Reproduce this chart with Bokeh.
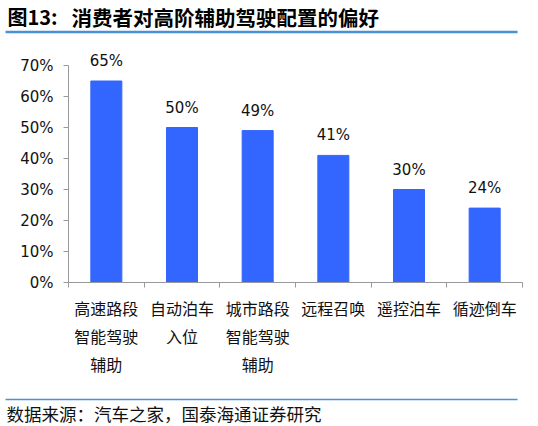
from bokeh.plotting import figure
from bokeh.layouts import column
from bokeh.models import FixedTicker, ColumnDataSource, NumeralTickFormatter, Range1d
from bokeh.embed import file_html
from bokeh.resources import INLINE
from bokeh.core.properties import value

# ---- data ----
categories = ["高速路段\n智能驾驶\n辅助", "自动泊车\n入位", "城市路段\n智能驾驶\n辅助",
              "远程召唤", "遥控泊车", "循迹倒车"]
values = [0.65, 0.50, 0.49, 0.41, 0.30, 0.24]
value_labels = ["65%", "50%", "49%", "41%", "30%", "24%"]
y_ticks = [0, 0.1, 0.2, 0.3, 0.4, 0.5, 0.6, 0.7]
title_prefix = "图13:"
title_text = "消费者对高阶辅助驾驶配置的偏好"
source_text = "数据来源：汽车之家，国泰海通证券研究"

W = 538
RULE_COLOR = "#4A90D2"
CJK = "Noto Sans CJK SC"

def deco_fig(h):
    f = figure(width=W, height=h, output_backend="svg", toolbar_location=None,
               x_range=Range1d(0, W), y_range=Range1d(h, 0), title=None,
               x_axis_type=None, y_axis_type=None, min_border=0, frame_align=False)
    f.outline_line_color = None
    f.grid.visible = False
    return f

# ---- title strip ----
TOP_H = 40
top = deco_fig(TOP_H)
top.text(x=[7], y=[16], text=[title_prefix], text_font=value(CJK), text_font_style="bold",
         text_font_size="20px", text_baseline="middle", text_color="#000000")
top.text(x=[71], y=[16], text=[title_text], text_font=value(CJK), text_font_style="bold",
         text_font_size="20.5px", text_baseline="middle", text_color="#000000")
top.segment(x0=[5], y0=[31.5], x1=[517], y1=[31.5], line_color=RULE_COLOR, line_width=2.5)

# ---- chart ----
n = len(categories)
ML, MR = 68, W - 522
CH = 352                      # chart height (page 40 .. 392)
frame_top, axis_y, top70 = 40, 282, 65
FH = axis_y - frame_top
MB = CH - FH
YMAX = 0.7
y_end = YMAX * FH / (axis_y - top70)

xs = [i + 0.5 for i in range(n)]
src = ColumnDataSource(dict(x=xs, top=values, lab=value_labels))

p = figure(width=W, height=CH, output_backend="svg", toolbar_location=None, title=None,
           x_range=Range1d(0, n), y_range=Range1d(0, y_end), frame_align=False,
           min_border_left=ML, min_border_right=MR, min_border_top=0, min_border_bottom=MB)
p.outline_line_color = None
p.grid.visible = False

p.vbar(x="x", top="top", width=0.41, source=src, color="#3366FF")
p.text(x="x", y="top", text="lab", source=src, text_align="center", text_baseline="middle",
       y_offset=-20, text_font=value("DejaVu Sans"), text_font_size="15px", text_color="#111111")

xa = p.xaxis[0]
xa.ticker = FixedTicker(ticks=xs, minor_ticks=list(range(n + 1)))
xa.major_label_overrides = {x: c for x, c in zip(xs, categories)}
xa.major_tick_out = 0
xa.major_tick_in = 0
xa.minor_tick_out = 5
xa.minor_tick_in = 0
xa.minor_tick_line_color = "#999999"
xa.axis_line_color = "#999999"
xa.major_label_text_font = CJK
xa.major_label_text_font_size = "16px"
xa.major_label_text_line_height = 1.17
xa.major_label_text_color = "#111111"
xa.major_label_standoff = 8

ya = p.yaxis[0]
ya.ticker = FixedTicker(ticks=y_ticks, minor_ticks=[])
ya.formatter = NumeralTickFormatter(format="0%")
ya.bounds = (0, YMAX)
ya.major_tick_out = 5
ya.major_tick_in = 0
ya.major_tick_line_color = "#999999"
ya.axis_line_color = "#999999"
ya.major_label_text_font = "DejaVu Sans"
ya.major_label_text_font_size = "15px"
ya.major_label_text_color = "#111111"
ya.major_label_standoff = 10

# ---- source strip ----
BOT_H = 34
bot = deco_fig(BOT_H)
bot.segment(x0=[5], y0=[7], x1=[517], y1=[7], line_color=RULE_COLOR, line_width=1.5)
bot.text(x=[6], y=[21], text=[source_text], text_font=value(CJK), text_font_size="17.5px",
         text_baseline="middle", text_color="#111111")

layout = column(top, p, bot, spacing=0)
open("out.html", "w").write(file_html(layout, INLINE))
